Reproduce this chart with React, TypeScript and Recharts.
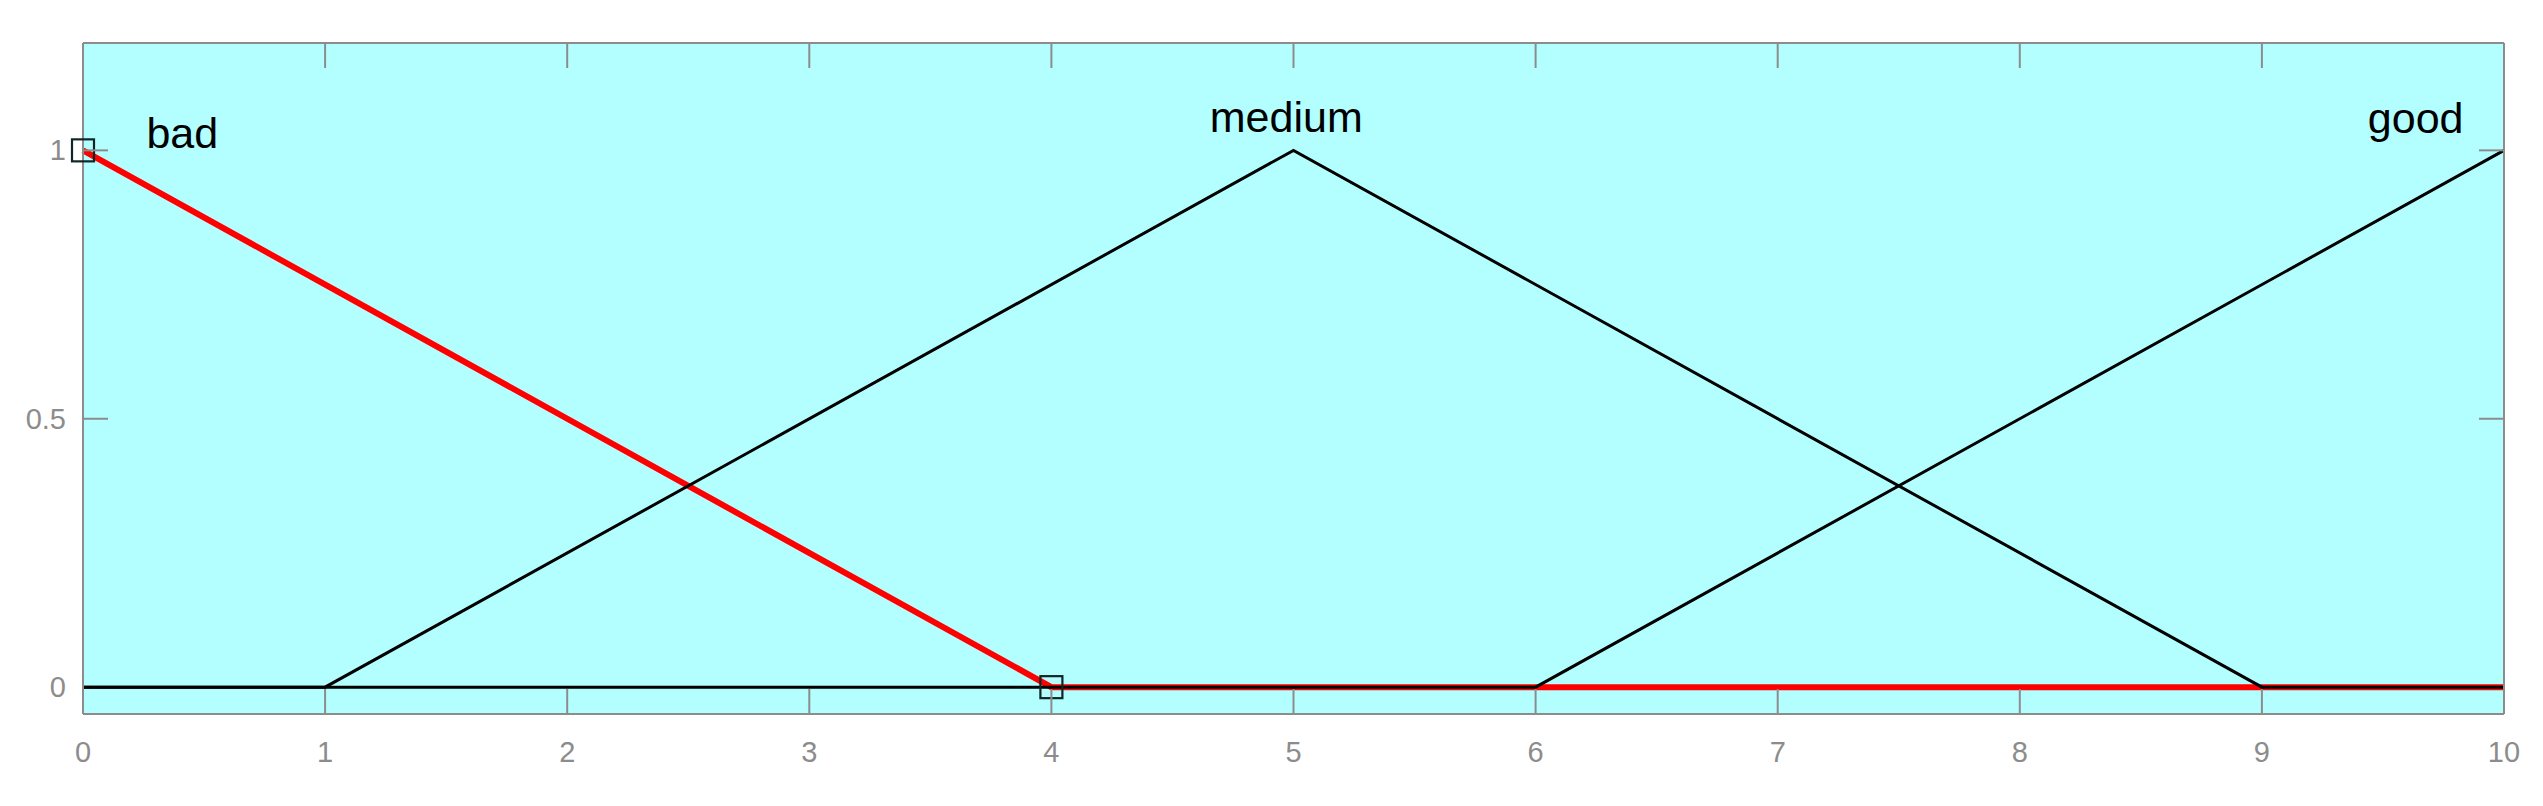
import { CartesianGrid, Line, LineChart, ReferenceDot, XAxis, YAxis } from "recharts";

// membership functions
const badPoints = [
  { x: 0, y: 1 },
  { x: 4, y: 0 },
  { x: 10, y: 0 },
];
const mediumPoints = [
  { x: 0, y: 0 },
  { x: 1, y: 0 },
  { x: 5, y: 1 },
  { x: 9, y: 0 },
  { x: 10, y: 0 },
];
const goodPoints = [
  { x: 0, y: 0 },
  { x: 6, y: 0 },
  { x: 10, y: 1 },
];
const xTicks = [0, 1, 2, 3, 4, 5, 6, 7, 8, 9, 10];
const yTicks = [0, 0.5, 1];
const mfLabels = [
  { name: "bad", x: 0.41, y: 1.005 },
  { name: "medium", x: 4.97, y: 1.035 },
  { name: "good", x: 9.635, y: 1.033 },
];

const AXIS = "#8c8c8c";
const FONT = "Liberation Sans, Arial, sans-serif";
const TICK_LEN = 25;
const TOP_H = 43; // space above the plot box

// ticks point into the plot, like matlab's box axes
function makeTick(side: "bottom" | "left" | "right", showLabel: boolean) {
  return (props: any) => {
    const { x, y, payload } = props;
    let line = null;
    let line2 = null;
    let label = null;
    // the zero line sits on top of the y ticks at 0 in the original
    const hideLine = side !== "bottom" && payload.value === 0;
    if (side === "bottom") {
      line = <line x1={x} x2={x} y1={y} y2={y - TICK_LEN} stroke={AXIS} strokeWidth={2} />;
      // mirrored tick on the top edge of the box
      line2 = <line x1={x} x2={x} y1={TOP_H} y2={TOP_H + TICK_LEN} stroke={AXIS} strokeWidth={2} />;
      if (showLabel)
        label = (
          <text x={x} y={y + 38} textAnchor="middle" dominantBaseline="central" fontSize={29} fontFamily={FONT} fill={AXIS}>
            {payload.value}
          </text>
        );
    } else if (side === "left") {
      if (!hideLine) line = <line x1={x} x2={x + TICK_LEN} y1={y} y2={y} stroke={AXIS} strokeWidth={2} />;
      if (showLabel)
        label = (
          <text x={x - 17} y={y} textAnchor="end" dominantBaseline="central" fontSize={29} fontFamily={FONT} fill={AXIS}>
            {payload.value}
          </text>
        );
    } else {
      if (!hideLine) line = <line x1={x} x2={x - TICK_LEN} y1={y} y2={y} stroke={AXIS} strokeWidth={2} />;
    }
    return (
      <g>
        {line}
        {line2}
        {label}
      </g>
    );
  };
}

function SquareDot(props: any) {
  const { cx, cy, index } = props;
  if (index > 1) return <g key={`d${index}`} />;
  return (
    <rect
      key={`d${index}`}
      x={cx - 11}
      y={cy - 11}
      width={22}
      height={22}
      fill="none"
      stroke="#102626"
      strokeWidth={2.2}
    />
  );
}

export default function App() {
  return (
    <div style={{ position: "absolute", left: 0, top: 0, background: "#fff" }}>
      <LineChart width={2543} height={806} margin={{ top: 0, right: 0, bottom: 0, left: 0 }}>
        <CartesianGrid horizontal={false} vertical={false} fill="#b3ffff" />
        <XAxis
          xAxisId="b"
          type="number"
          dataKey="x"
          domain={[0, 10]}
          ticks={xTicks}
          height={92}
          stroke={AXIS}
          strokeWidth={2}
          tickSize={0}
          tickMargin={0}
          tickLine={false}
          tick={makeTick("bottom", true)}
        />
        <XAxis
          xAxisId="t"
          orientation="top"
          type="number"
          dataKey="x"
          domain={[0, 10]}
          ticks={xTicks}
          height={TOP_H}
          stroke={AXIS}
          strokeWidth={2}
          tickLine={false}
          tick={false}
        />
        <YAxis
          yAxisId="l"
          type="number"
          domain={[-0.05, 1.2]}
          ticks={yTicks}
          allowDataOverflow
          width={83}
          stroke={AXIS}
          strokeWidth={2}
          tickSize={0}
          tickMargin={0}
          tickLine={false}
          tick={makeTick("left", true)}
        />
        <YAxis
          yAxisId="r"
          orientation="right"
          type="number"
          domain={[-0.05, 1.2]}
          ticks={yTicks}
          allowDataOverflow
          width={39}
          stroke={AXIS}
          strokeWidth={2}
          tickSize={0}
          tickMargin={0}
          tickLine={false}
          tick={makeTick("right", false)}
        />
        <Line
          xAxisId="b"
          yAxisId="l"
          data={badPoints}
          dataKey="y"
          type="linear"
          stroke="#ff0000"
          strokeWidth={6}
          dot={SquareDot}
          activeDot={false}
          isAnimationActive={false}
        />
        <Line
          xAxisId="b"
          yAxisId="l"
          data={mediumPoints}
          dataKey="y"
          type="linear"
          stroke="#000"
          strokeWidth={3}
          dot={false}
          activeDot={false}
          isAnimationActive={false}
        />
        <Line
          xAxisId="b"
          yAxisId="l"
          data={goodPoints}
          dataKey="y"
          type="linear"
          stroke="#000"
          strokeWidth={3}
          dot={false}
          activeDot={false}
          isAnimationActive={false}
        />
        {mfLabels.map((m) => (
          <ReferenceDot
            key={m.name}
            xAxisId="b"
            yAxisId="l"
            x={m.x}
            y={m.y}
            r={0}
            shape={(p: any) => (
              <text x={p.cx} y={p.cy} textAnchor="middle" fontSize={43} fontFamily={FONT} fill="#000">
                {m.name}
              </text>
            )}
          />
        ))}
      </LineChart>
    </div>
  );
}
